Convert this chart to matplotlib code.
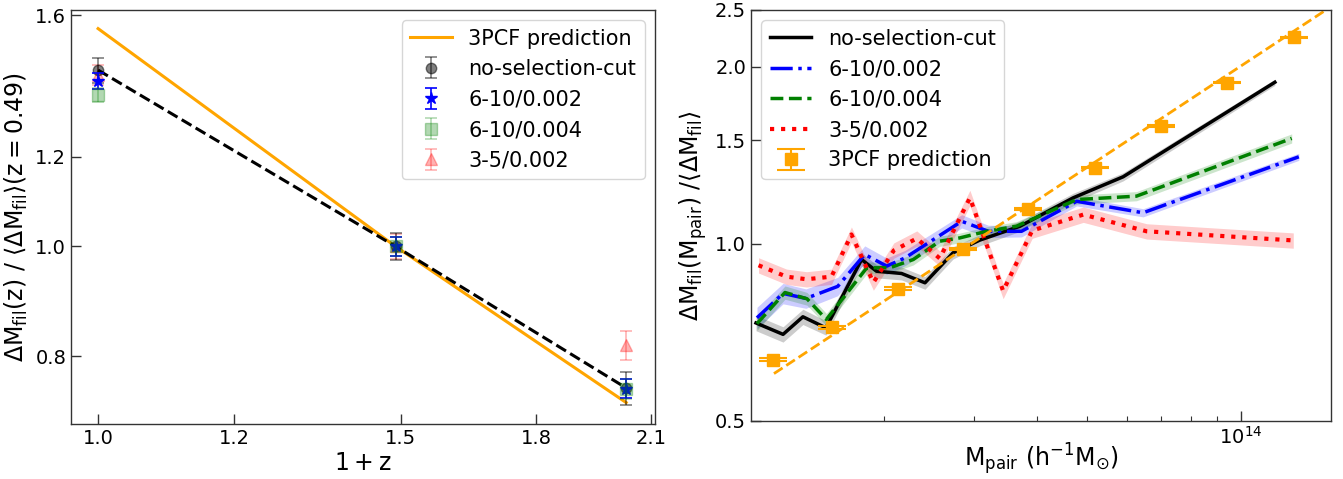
import numpy as np
import matplotlib
matplotlib.use("Agg")
import matplotlib.pyplot as plt
from matplotlib.ticker import NullLocator, NullFormatter, FixedLocator, FixedFormatter

plt.rcParams['font.family'] = ['DejaVu Sans']
plt.rcParams['mathtext.fontset'] = 'dejavusans'

# ---------------- left panel data ----------------
one_plus_z = [1.0, 1.49, 2.03]
pred_3pcf_z = [1.557, 1.0, 0.728]
nosel_z = [1.431, 1.0, 0.750]
nosel_z_err = [0.036, 0.027, 0.025]
s6_10_002_z = [1.400, 1.0, 0.749]
s6_10_002_z_err = [0.022, 0.020, 0.014]
s6_10_004_z = [1.360, 1.0, 0.749]
s6_10_004_z_err = [0.019, 0.020, 0.015]
s3_5_002_z = [1.417, 1.0, 0.818]
s3_5_002_z_err = [0.029, 0.025, 0.024]
left_xticks = [1.0, 1.2, 1.5, 1.8, 2.1]
left_xticklabels = ['1.0', '1.2', '1.5', '1.8', '2.1']
left_yticks = [0.8, 1.0, 1.2, 1.6]
left_yticklabels = ['0.8', '1.0', '1.2', '1.6']

# ---------------- right panel data (masses in 1e13 h^-1 Msun) ----------------
nosel_m = [1.125, 1.271, 1.390, 1.542, 1.811, 1.936, 2.168, 2.410, 2.735, 3.083, 3.698, 4.699, 5.888, 11.67]
nosel_r = [0.734, 0.702, 0.752, 0.720, 0.941, 0.899, 0.891, 0.859, 0.966, 1.015, 1.072, 1.198, 1.301, 1.884]
nosel_e = [0.030, 0.030, 0.030, 0.028, 0.026, 0.026, 0.025, 0.025, 0.024, 0.022, 0.020, 0.018, 0.016, 0.012]

b1_m = [1.130, 1.271, 1.409, 1.626, 1.837, 2.028, 2.203, 2.844, 3.206, 3.724, 4.775, 6.442, 13.00]
b1_r = [0.749, 0.824, 0.808, 0.847, 0.960, 0.917, 0.947, 1.093, 1.051, 1.051, 1.182, 1.130, 1.407]
b1_e = [0.042, 0.040, 0.038, 0.036, 0.034, 0.032, 0.030, 0.026, 0.024, 0.022, 0.018, 0.016, 0.014]

b2_m = [1.130, 1.282, 1.416, 1.545, 1.854, 2.056, 2.286, 2.576, 2.818, 3.184, 3.639, 4.775, 6.252, 12.59]
b2_r = [0.732, 0.827, 0.807, 0.744, 0.911, 0.911, 0.941, 1.011, 1.024, 1.051, 1.072, 1.190, 1.206, 1.512]
b2_e = [0.026, 0.026, 0.025, 0.024, 0.023, 0.022, 0.021, 0.020, 0.019, 0.018, 0.018, 0.018, 0.018, 0.018]

b3_m = [1.138, 1.291, 1.413, 1.581, 1.730, 1.910, 2.094, 2.323, 2.576, 2.951, 3.428, 3.908, 4.920, 6.546, 12.68]
b3_r = [0.920, 0.880, 0.871, 0.880, 1.038, 0.860, 0.975, 1.022, 0.945, 1.198, 0.832, 1.054, 1.122, 1.051, 1.014]
b3_e = [0.030, 0.030, 0.030, 0.030, 0.030, 0.030, 0.030, 0.030, 0.030, 0.030, 0.030, 0.030, 0.030, 0.030, 0.030]

pcf_m = [1.216, 1.585, 2.13, 2.86, 3.84, 5.19, 7.0, 9.4, 12.7]
pcf_r = [0.636, 0.722, 0.840, 0.980, 1.146, 1.349, 1.588, 1.879, 2.248]
pcf_e = [0.004, 0.004, 0.004, 0.004, 0.004, 0.004, 0.004, 0.004, 0.004]

fit_m = [1.22, 15.0]
fit_r = [0.602, 2.53]

right_yticks = [0.5, 1.0, 1.5, 2.0, 2.5]
right_yticklabels = ['0.5', '1.0', '1.5', '2.0', '2.5']

# ---------------- figure ----------------
W, H = 1343, 479
fig = plt.figure(figsize=(W / 100, H / 100), dpi=100)
ax1 = fig.add_axes([71 / W, 1 - 424 / H, (655 - 71) / W, (424 - 10) / H])
ax2 = fig.add_axes([751 / W, 1 - 421 / H, (1331 - 751) / W, (421 - 10) / H])

TICK_FS = 14
LEG_FS = 15
LAB_FS = 17

for ax in (ax1, ax2):
    ax.set_xscale('log')
    ax.set_yscale('log')
    for s in ax.spines.values():
        s.set_color('#333333')
        s.set_linewidth(1.0)
    ax.tick_params(which='major', direction='in', length=7, width=1, labelsize=TICK_FS,
                   top=False, right=False, color='#333333')
    ax.tick_params(which='minor', direction='in', length=3.5, width=0.8,
                   top=False, right=False, color='#333333')

# ----- left panel -----
ax1.plot(one_plus_z, pred_3pcf_z, color='orange', lw=2.2, label='3PCF prediction', zorder=3)
ax1.plot(one_plus_z, nosel_z, color='k', ls='--', lw=2.2, zorder=4)
ax1.errorbar(one_plus_z, s3_5_002_z, yerr=s3_5_002_z_err, fmt='^', color='red', alpha=0.3,
             ms=9, capsize=4.5, elinewidth=1.2, capthick=1.2, label='3-5/0.002', zorder=2)
ax1.errorbar(one_plus_z, nosel_z, yerr=nosel_z_err, fmt='o', color='k', alpha=0.5,
             ms=7.5, capsize=4.5, elinewidth=1.2, capthick=1.2, label='no-selection-cut', zorder=5)
ax1.errorbar(one_plus_z, s6_10_002_z, yerr=s6_10_002_z_err, fmt='*', color='blue',
             ms=9, capsize=4.5, elinewidth=1.2, capthick=1.2, label='6-10/0.002', zorder=6)
ax1.errorbar(one_plus_z, s6_10_004_z, yerr=s6_10_004_z_err, fmt='s', color='green', alpha=0.3,
             ms=8, capsize=4.5, elinewidth=1.2, capthick=1.2, label='6-10/0.004', zorder=7)

ax1.set_xlim(0.9643, 2.110)
ax1.set_ylim(0.697, 1.617)
ax1.xaxis.set_major_locator(FixedLocator(left_xticks))
ax1.xaxis.set_major_formatter(FixedFormatter(left_xticklabels))
ax1.xaxis.set_minor_locator(NullLocator())
ax1.yaxis.set_major_locator(FixedLocator(left_yticks))
ax1.yaxis.set_major_formatter(FixedFormatter(left_yticklabels))
ax1.yaxis.set_minor_locator(NullLocator())
ax1.set_xlabel(r'$\rm 1+z$', fontsize=LAB_FS, labelpad=2)
ax1.set_ylabel(r'$\Delta \rm M_{fil}(z)\ /\ \langle \Delta M_{fil} \rangle (z = 0.49)$', fontsize=LAB_FS)

h, l = ax1.get_legend_handles_labels()
order = ['3PCF prediction', 'no-selection-cut', '6-10/0.002', '6-10/0.004', '3-5/0.002']
hh = [h[l.index(o)] for o in order]
ax1.legend(hh, order, loc='upper right', fontsize=LEG_FS)

# ----- right panel -----
def band(ax, m, r, e, color, ls, label, alpha=0.2, lw=2.5):
    m = np.asarray(m) * 1e13
    r = np.asarray(r)
    e = np.asarray(e)
    ax.fill_between(m, r * (1 - e), r * (1 + e), color=color, alpha=alpha, lw=0)
    ax.plot(m, r, color=color, ls=ls, lw=lw, label=label)

band(ax2, nosel_m, nosel_r, nosel_e, 'k', '-', 'no-selection-cut')
band(ax2, b1_m, b1_r, b1_e, 'blue', '-.', '6-10/0.002')
band(ax2, b2_m, b2_r, b2_e, 'green', '--', '6-10/0.004')
band(ax2, b3_m, b3_r, b3_e, 'red', ':', '3-5/0.002', lw=3)
ax2.plot(np.asarray(fit_m) * 1e13, fit_r, color='orange', ls='--', lw=2)
ax2.errorbar(np.asarray(pcf_m) * 1e13, pcf_r, yerr=pcf_e, fmt='s', color='orange',
             ms=8, capsize=10, elinewidth=1.5, capthick=1.5, label='3PCF prediction', zorder=5)

ax2.set_xlim(1.1e13, 1.503e14)
ax2.set_ylim(0.5, 2.5)
ax2.yaxis.set_major_locator(FixedLocator(right_yticks))
ax2.yaxis.set_major_formatter(FixedFormatter(right_yticklabels))
ax2.yaxis.set_minor_locator(NullLocator())
ax2.xaxis.set_minor_formatter(NullFormatter())
ax2.set_xlabel(r'$\rm M_{pair}\ (h^{-1}M_{\odot})$', fontsize=LAB_FS, labelpad=-5)
ax2.set_ylabel(r'$\Delta \rm M_{fil}(M_{pair})\ /\langle \Delta M_{fil} \rangle$', fontsize=LAB_FS)
ax2.legend(loc='upper left', fontsize=LEG_FS)

fig.savefig('out.png', dpi=100)
